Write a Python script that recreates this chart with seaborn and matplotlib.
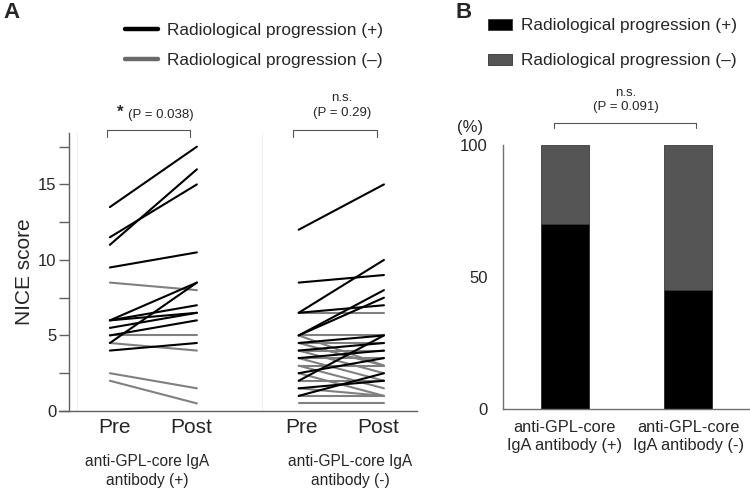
import numpy as np
import pandas as pd
import seaborn as sns
import matplotlib as mpl
import matplotlib.pyplot as plt
from matplotlib.lines import Line2D
from matplotlib.patches import Patch

sns.set_style('ticks')
plt.rcParams['font.family'] = ['Liberation Sans', 'DejaVu Sans']

# ---- data: panel A (NICE score, pre -> post) ----
igA_pos_pre = [13.5, 11.5, 11.0, 9.5, 6.0, 4.5, 6.0, 6.0, 5.5, 5.0, 4.0,
               8.5, 5.0, 4.5, 2.5, 2.0]
igA_pos_post = [17.5, 15.0, 16.0, 10.5, 8.5, 8.5, 7.0, 6.5, 6.5, 6.0, 4.5,
                8.0, 5.0, 4.0, 1.5, 0.5]
igA_pos_prog = ['+'] * 11 + ['-'] * 5

igA_neg_pre = [12.0, 8.5, 6.5, 6.5, 5.0, 5.0, 4.5, 3.5, 2.0, 2.5, 1.5, 1.0, 4.0,
               6.5, 5.0, 5.0, 4.5, 4.5, 4.0, 4.0, 3.5, 3.5, 3.0, 3.0, 2.5, 2.0,
               1.5, 1.0, 0.5]
igA_neg_post = [15.0, 9.0, 10.0, 7.0, 8.0, 7.5, 5.0, 4.0, 5.0, 3.5, 2.0, 2.5, 4.5,
                6.5, 3.0, 5.0, 4.5, 3.0, 2.5, 4.0, 2.0, 3.5, 1.5, 3.0, 1.0, 2.0,
                1.0, 1.0, 0.5]
igA_neg_prog = ['+'] * 13 + ['-'] * 16

# ---- data: panel B (% of patients) ----
bar_groups = ['anti-GPL-core\nIgA antibody (+)', 'anti-GPL-core\nIgA antibody (-)']
pct_prog_pos = [70, 45]
pct_prog_neg = [30, 55]

xpos = {('pos', 'Pre'): 0.0, ('pos', 'Post'): 1.0,
        ('neg', 'Pre'): 2.17, ('neg', 'Post'): 3.15}

rows = []
pid = 0
for grp, pre, post, prog in [('pos', igA_pos_pre, igA_pos_post, igA_pos_prog),
                             ('neg', igA_neg_pre, igA_neg_post, igA_neg_prog)]:
    for a, b, p in zip(pre, post, prog):
        rows.append(dict(pid=pid, x=xpos[(grp, 'Pre')], score=a, prog=p))
        rows.append(dict(pid=pid, x=xpos[(grp, 'Post')], score=b, prog=p))
        pid += 1
df = pd.DataFrame(rows)

fig = plt.figure(figsize=(7.5, 4.91), dpi=100)
axA = fig.add_axes([0.092, 0.163, 0.464, 0.566])
axB = fig.add_axes([0.671, 0.167, 0.329, 0.538])

spine_col = '#606060'

# ---- panel A ----
for xv in [-0.38, 1.75]:
    axA.axvline(xv, color='#ececec', lw=0.6, zorder=0)
sns.lineplot(data=df, x='x', y='score', hue='prog', units='pid', estimator=None,
             palette={'+': 'black', '-': '#808080'}, hue_order=['-', '+'],
             lw=1.5, legend=False, ax=axA)
axA.set_xlim(-0.47, 3.53)
axA.set_ylim(0, 18.4)
axA.set_yticks([0, 5, 10, 15])
axA.set_yticks([2.5, 7.5, 12.5, 17.5], minor=True)
axA.tick_params(axis='y', which='both', length=7, width=1, color=spine_col,
                labelsize=12, pad=2)
axA.set_xticks([0.05, 0.93, 2.2, 3.08])
axA.set_xticklabels(['Pre', 'Post', 'Pre', 'Post'], fontsize=15)
axA.tick_params(axis='x', length=0, pad=5)
axA.set_xlabel('')
axA.set_ylabel('NICE score', fontsize=15, labelpad=3)
sns.despine(ax=axA)
for s in ['left', 'bottom']:
    axA.spines[s].set_color(spine_col)
    axA.spines[s].set_linewidth(1)
axA.spines['bottom'].set_bounds(-0.58, 3.53)

for cx, txt in [(0.43, 'anti-GPL-core IgA\nantibody (+)'),
                (2.76, 'anti-GPL-core IgA\nantibody (-)')]:
    axA.text(cx, -0.155, txt, transform=axA.get_xaxis_transform(),
             ha='center', va='top', fontsize=11.2, linespacing=1.3)

def bracket(ax, x0, x1, y, h, lw=0.8):
    ax.plot([x0, x0, x1, x1], [y - h, y, y, y - h], color='#555555', lw=lw,
            clip_on=False)

bracket(axA, -0.03, 0.92, 18.6, 0.45)
axA.text(0.12, 19.75, '*', ha='center', va='center', fontsize=12, fontweight='bold')
axA.text(0.59, 19.6, '(P = 0.038)', ha='center', va='center', fontsize=9.5)
bracket(axA, 2.1, 3.07, 18.6, 0.45)
axA.text(2.67, 20.75, 'n.s.', ha='center', va='center', fontsize=9.5)
axA.text(2.67, 19.7, '(P = 0.29)', ha='center', va='center', fontsize=9.5)

fig.text(0.004, 0.975, 'A', fontsize=16, fontweight='bold', va='center')
fig.text(0.607, 0.975, 'B', fontsize=16, fontweight='bold', va='center')

legA = [Line2D([0], [0], color='black', lw=3.2),
        Line2D([0], [0], color='#6a6a6a', lw=3.2)]
fig.legend(legA, ['Radiological progression (+)', 'Radiological progression (–)'],
           loc='center left', bbox_to_anchor=(0.167, 0.908), frameon=False,
           fontsize=12.4, handlelength=1.9, handletextpad=0.5, labelspacing=0.85,
           borderpad=0, borderaxespad=0)

# ---- panel B ----
totals = [a + b for a, b in zip(pct_prog_pos, pct_prog_neg)]
sns.barplot(x=bar_groups, y=totals, color='#555555', width=0.39,
            edgecolor='#3a3a3a', linewidth=0.6, saturation=1, ax=axB)
sns.barplot(x=bar_groups, y=pct_prog_pos, color='black', width=0.39,
            edgecolor='#3a3a3a', linewidth=0.6, saturation=1, ax=axB)
axB.set_xlim(-0.5, 1.5)
axB.set_ylim(0, 100)
axB.set_yticks([0, 50, 100])
axB.tick_params(axis='y', length=0, labelsize=12, pad=11)
axB.tick_params(axis='x', length=0, labelsize=11.8, pad=8)
sns.despine(ax=axB)
for s in ['left', 'bottom']:
    axB.spines[s].set_color('#707070')
    axB.spines[s].set_linewidth(1)
axB.text(-0.77, 106.5, '(%)', ha='center', va='center', fontsize=12, clip_on=False)
bracket(axB, -0.09, 1.06, 108.3, 2.0)
axB.text(0.49, 119.5, 'n.s.', ha='center', va='center', fontsize=9.5)
axB.text(0.49, 114.2, '(P = 0.091)', ha='center', va='center', fontsize=9.5)

legB = [Patch(facecolor='black', edgecolor='#333333', lw=0.6),
        Patch(facecolor='#555555', edgecolor='#333333', lw=0.6)]
fig.legend(legB, ['Radiological progression (+)', 'Radiological progression (–)'],
           loc='center left', bbox_to_anchor=(0.651, 0.912), frameon=False,
           fontsize=12.4, handlelength=1.35, handleheight=0.6, handletextpad=0.55,
           labelspacing=1.15, borderpad=0, borderaxespad=0)

fig.savefig('out.png', dpi=100)
